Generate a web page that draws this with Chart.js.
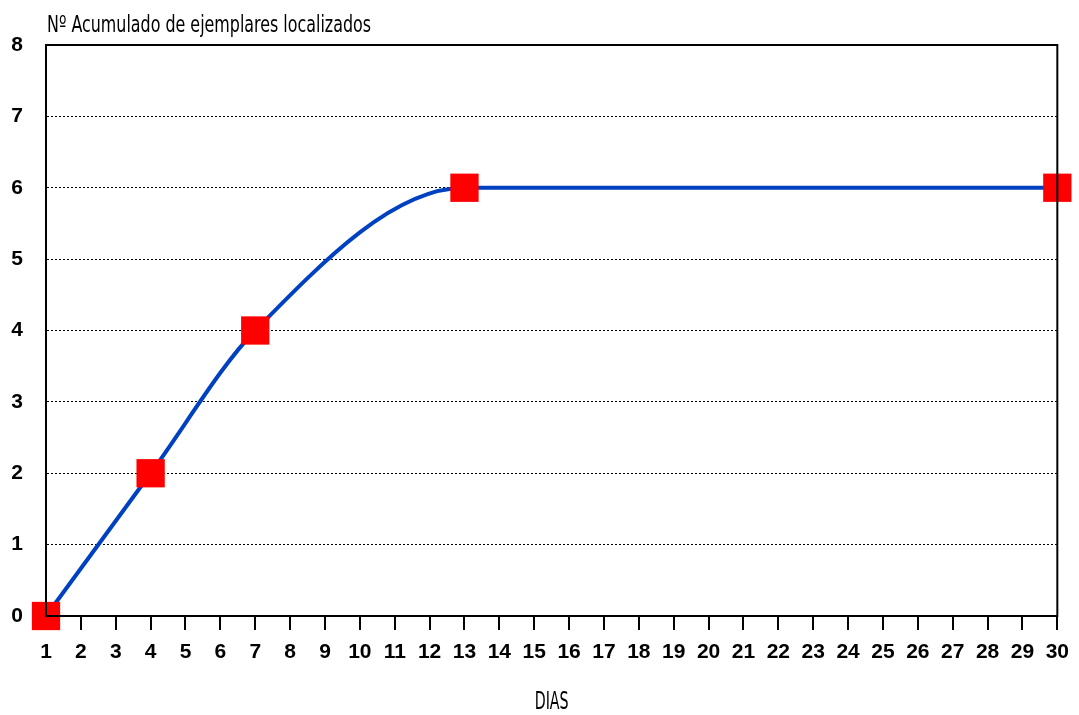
<!DOCTYPE html>
<html>
<head>
<meta charset="utf-8">
<script src="https://cdn.jsdelivr.net/npm/chart.js@4"></script>
<style>
html,body{margin:0;padding:0;background:#fff;}
#wrap{width:1079px;height:715px;}
</style>
</head>
<body>
<div id="wrap"><canvas id="c" width="1079" height="715"></canvas></div>
<script>
const days = [1, 4, 7, 13, 30];
const values = [0, 2, 4, 6, 6];
const yTitle = 'Nº Acumulado de ejemplares localizados';
const xTitle = 'DIAS';

const narrow = '"DejaVu Sans Condensed", "Liberation Sans Narrow", sans-serif';
const bold = '"Liberation Sans", Arial, sans-serif';

function condensedText(ctx, text, x, baseline, width, size, align) {
  ctx.save();
  ctx.font = size + 'px ' + narrow;
  ctx.textBaseline = 'alphabetic';
  ctx.textAlign = 'left';
  const w = ctx.measureText(text).width;
  const k = width / w;
  const left = align === 'center' ? x - width / 2 : x;
  ctx.translate(left, baseline);
  ctx.scale(k, 1);
  ctx.fillStyle = '#000';
  ctx.fillText(text, 0, 0);
  ctx.restore();
}

const frame = {
  id: 'frame',
  afterDraw(chart) {
    const {ctx, chartArea: a} = chart;
    ctx.save();
    ctx.strokeStyle = '#000';
    ctx.lineWidth = 2;
    ctx.strokeRect(a.left, a.top, a.right - a.left, a.bottom - a.top);
    ctx.restore();
    condensedText(ctx, yTitle, 47, 32, 324, 23, 'left');
    condensedText(ctx, xTitle, (a.left + a.right) / 2, 709, 34, 25, 'center');
  }
};

new Chart(document.getElementById('c'), {
  type: 'line',
  data: {
    datasets: [{
      data: days.map((d, i) => ({x: d, y: values[i]})),
      borderColor: '#0041C2',
      borderWidth: 4,
      cubicInterpolationMode: 'monotone',
      pointStyle: 'rect',
      pointRadius: 20,
      pointHoverRadius: 20,
      pointBackgroundColor: '#FF0000',
      pointBorderWidth: 0,
      clip: false,
      fill: false
    }]
  },
  options: {
    responsive: false,
    animation: false,
    events: [],
    layout: {padding: {left: 0, right: 21, top: 45, bottom: 0}},
    plugins: {legend: {display: false}, tooltip: {enabled: false}, title: {display: false}},
    scales: {
      x: {
        type: 'linear',
        min: 1, max: 30,
        afterFit(s) { s.height = 99; },
        ticks: {stepSize: 1, autoSkip: false, maxRotation: 0, color: '#000',
                font: {family: bold, size: 21, weight: 'bold'}, padding: 10},
        grid: {drawOnChartArea: false, drawTicks: true, tickLength: 14, color: '#000', lineWidth: 2},
        border: {display: true, color: '#000', width: 2}
      },
      y: {
        min: 0, max: 8,
        afterFit(s) { s.width = 46; },
        ticks: {stepSize: 1, color: '#000', font: {family: bold, size: 21, weight: 'bold'}, padding: 23},
        grid: {drawTicks: false, color: '#000', lineWidth: 1},
        border: {display: true, color: '#000', width: 2, dash: [2, 2]}
      }
    }
  },
  plugins: [frame]
});
</script>
</body>
</html>
